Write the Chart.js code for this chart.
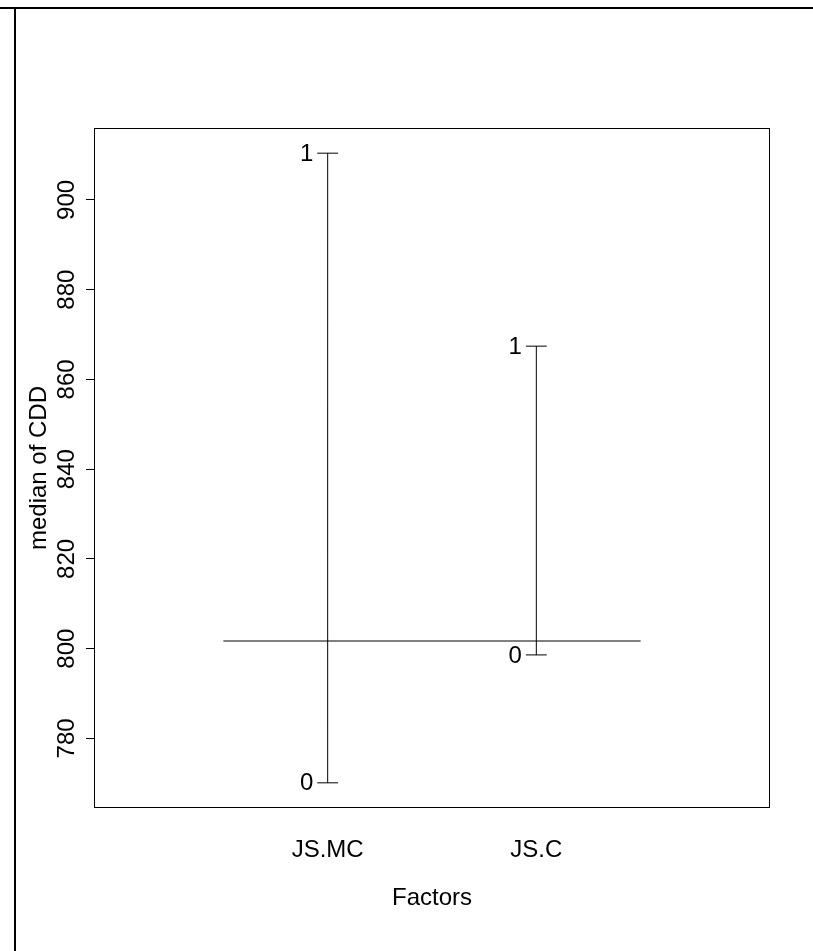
<!DOCTYPE html>
<html>
<head>
<meta charset="utf-8">
<script src="https://cdn.jsdelivr.net/npm/chart.js@4/dist/chart.umd.min.js"></script>
<style>
  html, body { margin: 0; padding: 0; background: #fff; }
  #wrap { width: 813px; height: 951px; position: relative; }
</style>
</head>
<body>
<div id="wrap"><canvas id="c" width="813" height="951"></canvas></div>
<script>
// ---- data ----
const factors = ['JS.MC', 'JS.C'];
const levelLabels = ['0', '1'];
const level0Median = [770.1, 798.6];
const level1Median = [910.4, 867.4];
const grandMedian = 801.7;
const yTickValues = [780, 800, 820, 840, 860, 880, 900];
const yTitle = 'median of CDD';
const xTitle = 'Factors';

const FONT = '"Liberation Sans", Arial, Helvetica, sans-serif';
const FS = 24;
const TICK_HALF = 0.05;

// build datasets from the arrays
const datasets = [];
factors.forEach((f, i) => {
  const pos = i + 1;
  datasets.push({
    data: [{x: pos, y: level0Median[i]}, {x: pos, y: level1Median[i]}],
    showLine: true, borderColor: '#000', borderWidth: 1, pointRadius: 0, fill: false
  });
  [level0Median[i], level1Median[i]].forEach(v => {
    datasets.push({
      data: [{x: pos - TICK_HALF, y: v}, {x: pos + TICK_HALF, y: v}],
      showLine: true, borderColor: '#000', borderWidth: 1, pointRadius: 0, fill: false
    });
  });
});
datasets.push({
  data: [{x: 0.5, y: grandMedian}, {x: factors.length + 0.5, y: grandMedian}],
  showLine: true, borderColor: '#000', borderWidth: 1, pointRadius: 0, fill: false
});

const allVals = level0Median.concat(level1Median, [grandMedian]);
const dMin = Math.min(...allVals), dMax = Math.max(...allVals);
const ext = (dMax - dMin) * 0.04;

const decor = {
  id: 'decor',
  beforeDraw(chart) {
    const ctx = chart.ctx;
    ctx.save();
    ctx.fillStyle = '#fff';
    ctx.fillRect(0, 0, chart.width, chart.height);
    ctx.fillStyle = '#000';
    ctx.fillRect(0, 7, chart.width, 2);
    ctx.fillRect(14, 7, 2, chart.height - 7);
    ctx.restore();
  },
  afterDraw(chart) {
    const ctx = chart.ctx;
    const a = chart.chartArea;
    const xs = chart.scales.x, ys = chart.scales.y;
    ctx.save();
    ctx.strokeStyle = '#000';
    ctx.lineWidth = 1;
    ctx.strokeRect(Math.round(a.left) + 0.5, Math.round(a.top) + 0.5,
                   Math.round(a.right - a.left) - 1, Math.round(a.bottom - a.top) - 1);
    ctx.fillStyle = '#000';
    ctx.font = FS + 'px ' + FONT;
    ctx.textAlign = 'right';
    ctx.textBaseline = 'middle';
    factors.forEach((f, i) => {
      const pos = i + 1;
      const px = xs.getPixelForValue(pos - TICK_HALF) - 4;
      ctx.fillText(levelLabels[0], px, ys.getPixelForValue(level0Median[i]) + 1);
      ctx.fillText(levelLabels[1], px, ys.getPixelForValue(level1Median[i]) + 1);
    });
    ctx.restore();
  }
};

new Chart(document.getElementById('c'), {
  type: 'scatter',
  data: { datasets },
  options: {
    responsive: false,
    animation: false,
    events: [],
    layout: { padding: { top: 128, right: 43, left: 0, bottom: 0 } },
    plugins: { legend: { display: false }, tooltip: { enabled: false } },
    scales: {
      x: {
        type: 'linear',
        min: -0.12, max: factors.length + 1.12,
        afterBuildTicks: s => { s.ticks = factors.map((f, i) => ({ value: i + 1 })); },
        afterFit: s => { s.height = 143; },
        grid: { display: true, drawOnChartArea: false, drawTicks: false, color: 'rgba(0,0,0,0)' },
        border: { display: false },
        ticks: {
          autoSkip: false, maxRotation: 0, minRotation: 0, padding: 28,
          color: '#000', font: { family: FONT, size: FS },
          callback: v => factors[Math.round(v) - 1] || ''
        },
        title: {
          display: true, text: xTitle, color: '#000',
          font: { family: FONT, size: FS }, padding: { top: 0, bottom: 38 }
        }
      },
      y: {
        type: 'linear',
        min: dMin - ext, max: dMax + ext,
        afterBuildTicks: s => { s.ticks = yTickValues.map(v => ({ value: v })); },
        afterFit: s => { s.width = 94; },
        grid: { display: true, drawOnChartArea: false, drawTicks: true, tickLength: 8, color: '#000', lineWidth: 1 },
        border: { display: false },
        ticks: {
          autoSkip: false, minRotation: 90, maxRotation: 90, crossAlign: 'center', padding: -1,
          color: '#000', font: { family: FONT, size: FS }
        },
        title: {
          display: true, text: yTitle, color: '#000',
          font: { family: FONT, size: FS }, padding: { top: 25, bottom: 0 }
        }
      }
    }
  },
  plugins: [decor]
});
</script>
</body>
</html>
